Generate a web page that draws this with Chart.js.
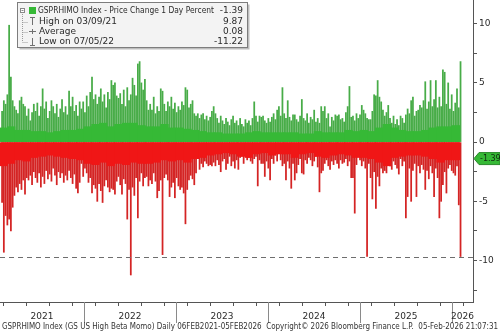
<!DOCTYPE html>
<html>
<head>
<meta charset="utf-8">
<script src="https://cdn.jsdelivr.net/npm/chart.js@4.4.1/dist/chart.umd.min.js"></script>
<style>
  html, body { margin: 0; padding: 0; background: #fff; }
  #wrap { width: 500px; height: 333px; }
</style>
</head>
<body>
<div id="wrap"><canvas id="momoChart" width="500" height="333"></canvas></div>
<script>
// GSPRHIMO daily % change: biggest up / down day of each week as thin spikes,
// plus the usual size of a day's move per month as the solid band round zero
const weekStart = 2021 + 38 / 365;   // Mon 08-Feb-2021, in fractional years
const monthStart = 2021 + 1 / 12;    // Feb 2021

const gains = [
    2.6, 3.5, 3.2, 4.0, 9.87, 5.5, 3.5, 3.0, 2.7, 2.4,
    3.5, 3.8, 3.2, 3.0, 2.2, 2.8, 1.8, 2.5, 3.2, 2.6,
    3.3, 2.2, 3.0, 4.5, 2.8, 3.4, 2.0, 2.6, 3.5, 3.0,
    2.4, 3.2, 2.1, 2.8, 3.6, 2.5, 3.0, 2.3, 4.3, 3.0,
    3.8, 2.6, 3.1, 2.2, 3.4, 2.8, 3.4, 2.5, 3.9, 3.0,
    4.2, 5.5, 3.6, 4.0, 3.2, 3.8, 4.5, 3.4, 4.0, 2.9,
    4.2, 3.6, 5.2, 4.8, 5.0, 3.9, 3.7, 4.1, 3.2, 4.4,
    3.0, 4.6, 3.5, 4.0, 5.4, 4.8, 3.9, 6.6, 6.8, 5.0,
    4.4, 5.3, 3.5, 2.7, 3.2, 2.7, 3.8, 2.4, 3.0, 2.6,
    4.5, 4.3, 3.2, 2.6, 3.4, 3.0, 3.8, 2.8, 3.3, 2.5,
    3.0, 2.7, 3.4, 3.1, 4.6, 4.4, 2.9, 3.2, 3.5, 2.4,
    2.2, 2.4, 2.0, 2.3, 2.4, 1.9, 2.2, 1.8, 2.1, 2.6,
    3.0, 2.4, 2.0, 1.6, 2.2, 1.8, 1.5, 2.0, 1.7, 1.4,
    1.9, 2.2, 1.6, 1.8, 1.4, 2.0, 1.5, 1.3, 1.9, 1.6,
    1.8, 1.4, 2.0, 3.4, 2.2, 1.7, 2.2, 2.1, 2.2, 1.8,
    1.6, 2.0, 1.7, 2.1, 2.4, 1.9, 2.7, 3.0, 2.2, 4.6,
    2.4, 2.0, 3.5, 2.1, 1.8, 2.3, 2.3, 1.9, 1.7, 2.2,
    3.6, 2.0, 1.8, 2.4, 1.6, 2.1, 1.9, 2.7, 1.7, 2.0,
    1.6, 3.0, 2.6, 3.0, 2.0, 2.4, 1.3, 2.1, 1.8, 2.3,
    2.2, 2.3, 1.9, 2.0, 1.7, 2.5, 3.0, 4.7, 2.1, 2.2,
    1.8, 2.4, 2.0, 2.3, 3.1, 2.7, 2.4, 2.0, 1.9, 1.9,
    2.6, 4.0, 3.9, 5.2, 3.8, 3.4, 2.7, 2.2, 2.5, 3.1,
    2.0, 1.6, 2.2, 1.5, 1.9, 1.4, 2.2, 2.0, 1.6, 2.3,
    2.8, 2.4, 3.5, 3.8, 2.2, 2.6, 2.7, 3.1, 2.9, 3.5,
    5.1, 2.8, 3.4, 5.2, 3.0, 3.6, 5.2, 2.9, 3.8, 3.0,
    6.1, 5.9, 3.2, 5.0, 2.8, 4.0, 2.6, 3.3, 4.5, 2.9,
    6.8
];

const losses = [
    -5.1, -9.3, -6.2, -7.0, -6.5, -7.5, -5.5, -4.5, -3.8, -4.2,
    -3.5, -4.0, -3.2, -4.4, -3.0, -3.2, -2.8, -3.6, -2.5, -3.0,
    -3.4, -2.6, -3.8, -2.9, -3.5, -2.4, -3.1, -2.7, -3.3, -2.2,
    -2.8, -3.6, -2.5, -3.0, -2.6, -3.4, -2.8, -3.2, -2.4, -3.0,
    -3.5, -2.7, -3.9, -4.3, -3.4, -1.8, -2.9, -2.2, -2.6, -3.4,
    -3.0, -4.3, -3.6, -3.9, -5.0, -3.5, -4.1, -5.1, -3.7, -3.2,
    -3.8, -4.2, -3.9, -4.0, -4.4, -3.3, -2.9, -3.6, -4.4, -3.1,
    -3.5, -6.5, -4.0, -11.22, -3.8, -4.5, -3.0, -6.4, -3.3, -2.6,
    -3.7, -3.0, -2.9, -3.7, -3.2, -3.5, -2.6, -3.3, -4.7, -4.1,
    -3.2, -9.5, -3.0, -2.7, -3.2, -4.6, -3.8, -3.4, -4.7, -3.0,
    -3.7, -4.0, -3.8, -4.3, -6.9, -4.0, -3.2, -2.8, -3.1, -3.6,
    -2.6, -1.2, -2.3, -1.8, -2.1, -1.6, -1.8, -2.0, -1.9, -2.0,
    -1.7, -2.0, -1.5, -1.9, -2.5, -1.6, -1.4, -2.3, -1.8, -1.2,
    -2.0, -1.6, -2.2, -1.5, -2.3, -1.3, -1.2, -1.8, -0.9, -1.5,
    -1.3, -1.6, -1.8, -1.4, -1.2, -3.7, -1.5, -1.8, -1.8, -2.9,
    -1.6, -2.2, -3.2, -1.4, -1.8, -1.1, -1.6, -0.9, -1.5, -2.0,
    -1.8, -3.2, -1.6, -2.2, -3.9, -1.8, -3.2, -2.6, -1.9, -1.4,
    -2.6, -2.7, -1.5, -1.8, -1.3, -1.5, -2.0, -1.6, -1.2, -2.1,
    -4.2, -2.6, -2.4, -1.8, -1.5, -2.0, -2.3, -1.6, -1.9, -1.5,
    -1.8, -2.2, -1.5, -1.8, -1.7, -1.4, -2.0, -1.6, -3.0, -3.0,
    -6.0, -1.9, -1.2, -1.5, -2.0, -1.6, -2.2, -9.66, -1.8, -3.0,
    -4.8, -2.5, -5.6, -2.9, -3.7, -2.2, -2.6, -2.4, -2.6, -1.8,
    -2.0, -2.3, -1.6, -1.9, -2.2, -2.7, -1.4, -2.0, -1.6, -6.4,
    -4.6, -2.2, -5.0, -2.4, -1.8, -4.6, -2.0, -2.6, -1.9, -2.3,
    -4.0, -2.4, -3.1, -2.0, -2.6, -4.6, -2.2, -3.0, -6.4, -5.0,
    -3.6, -2.5, -4.3, -2.2, -1.9, -2.4, -2.6, -2.8, -2.0, -5.3,
    -9.66
];

// typical up / down day per month, Feb 2021 .. Jan 2026
const bodyUp = [
    1.2, 1.3, 1.0, 1.0, 0.9, 0.9, 0.8, 0.9, 1.0, 1.0, 1.1,
    1.3, 1.5, 1.6, 1.3, 1.5, 1.6, 1.6, 1.4, 1.3, 1.3, 1.5, 1.2,
    1.2, 1.1, 1.0, 0.9, 0.8, 0.8, 0.7, 0.7, 0.7, 0.8, 0.9, 0.8,
    0.8, 0.8, 0.8, 0.8, 0.7, 0.7, 0.9, 0.8, 0.8, 0.8, 1.0, 0.9,
    1.0, 0.9, 1.2, 1.5, 1.2, 1.0, 0.9, 0.9, 1.0, 1.2, 1.3, 1.3,
    1.4
];
const bodyDown = [
    -2.0, -1.8, -1.5, -1.6, -1.3, -1.2, -1.1, -1.2, -1.3, -1.4, -1.5,
    -1.8, -1.9, -1.7, -2.0, -1.8, -1.9, -1.7, -1.8, -1.8, -1.7, -1.5, -1.6,
    -1.5, -1.7, -1.4, -1.3, -1.1, -1.0, -0.9, -1.0, -1.2, -1.3, -1.0, -0.9,
    -1.1, -1.0, -1.0, -1.3, -1.0, -0.9, -1.2, -1.3, -1.1, -1.0, -1.1, -1.3,
    -1.3, -1.4, -1.7, -2.0, -1.3, -1.2, -1.1, -1.1, -1.2, -1.4, -1.7, -1.5,
    -1.5
];

const yearLabels = ['2021', '2022', '2023', '2024', '2025', '2026'];
const yTicks = [-12.5, -10, -7.5, -5, -2.5, 0, 2.5, 5, 7.5, 10];
const lastValue = -1.39;
const refLevel = -9.66;
const legendRows = [
    ['GSPRHIMO Index - Price Change 1 Day Percent', '-1.39'],
    ['High on 03/09/21', '9.87'],
    ['Average', '0.08'],
    ['Low on 07/05/22', '-11.22']
];
const footerText = 'GSPRHIMO Index (GS US High Beta Momo) Daily 06FEB2021-05FEB2026  Copyright\u00A9 2026 Bloomberg Finance L.P.  05-Feb-2026 21:07:31';

const UP = '#36b936';
const UP_SPIKE = '#48ac48';
const DOWN = '#f01616';
const DOWN_SPIKE = '#d42424';
const AXIS = '#555';
const TEXT = '#2a2a2a';
const FONT = '"DejaVu Sans", Verdana, sans-serif';

// week index -> mid-week x, month index -> mid-month x (fractional years)
const weekPoints = arr => arr.map((v, i) => ({ x: weekStart + (i * 7 + 2) / 365.25, y: v }));
const monthPoints = arr => arr.map((v, i) => ({ x: monthStart + (i + 0.5) / 12, y: v }));

// extra bits Bloomberg puts on the chart: ref line, year bands, legend box, last-value tag, footer
const decorPlugin = {
    id: 'decor',
    afterDatasetsDraw(chart) {
        const { ctx, chartArea, scales } = chart;
        const y = scales.y.getPixelForValue(refLevel);
        ctx.save();
        ctx.strokeStyle = '#6e6e6e';
        ctx.lineWidth = 1;
        ctx.setLineDash([5, 4]);
        ctx.beginPath();
        ctx.moveTo(chartArea.left, Math.round(y) + 0.5);
        ctx.lineTo(chartArea.right, Math.round(y) + 0.5);
        ctx.stroke();
        ctx.restore();
    },
    afterDraw(chart) {
        const { ctx, chartArea, scales } = chart;
        const xs = scales.x;
        ctx.save();

        // year separators and labels under the axis
        ctx.strokeStyle = '#8a8a8a';
        ctx.lineWidth = 1;
        ctx.fillStyle = TEXT;
        ctx.font = '9px ' + FONT;
        ctx.textAlign = 'center';
        ctx.textBaseline = 'middle';
        yearLabels.forEach(label => {
            const yr = Number(label);
            const x0 = Math.max(xs.getPixelForValue(yr), chartArea.left);
            const x1 = Math.min(xs.getPixelForValue(yr + 1), chartArea.right);
            if (xs.getPixelForValue(yr) > chartArea.left) {
                const px = Math.round(xs.getPixelForValue(yr)) + 0.5;
                ctx.beginPath();
                ctx.moveTo(px, chartArea.bottom);
                ctx.lineTo(px, chartArea.bottom + 21);
                ctx.stroke();
            }
            ctx.fillText(label, (x0 + x1) / 2, chartArea.bottom + 15);
        });

        // footer line
        ctx.textAlign = 'left';
        ctx.font = '8px ' + FONT;
        ctx.fillStyle = '#333';
        ctx.fillText(footerText, 2, 327, 496);

        // last value tag on the right axis
        const ly = scales.y.getPixelForValue(lastValue);
        const ax = chartArea.right + 1;
        ctx.beginPath();
        ctx.moveTo(ax, ly);
        ctx.lineTo(ax + 5, ly - 6);
        ctx.lineTo(500, ly - 6);
        ctx.lineTo(500, ly + 6);
        ctx.lineTo(ax + 5, ly + 6);
        ctx.closePath();
        ctx.fillStyle = UP;
        ctx.fill();
        ctx.strokeStyle = '#2b8a2b';
        ctx.stroke();
        ctx.fillStyle = '#102a10';
        ctx.font = '8px ' + FONT;
        ctx.fillText(lastValue.toFixed(2), ax + 6, ly + 0.5);

        // legend box
        const bx = 17.5, by = 2.5, bw = 230, bh = 45;
        ctx.fillStyle = '#bdbdbd';
        ctx.fillRect(bx + 2, by + 2, bw, bh);
        ctx.fillStyle = '#f3f3f3';
        ctx.fillRect(bx, by, bw, bh);
        ctx.strokeStyle = '#7d7d7d';
        ctx.strokeRect(bx, by, bw, bh);

        const rowY = [11, 21.5, 31.5, 42];
        // tree lines
        ctx.strokeStyle = '#9a9a9a';
        ctx.setLineDash([1, 1]);
        ctx.beginPath();
        ctx.moveTo(22.5, 14);
        ctx.lineTo(22.5, rowY[3]);
        for (let r = 1; r < 4; r++) {
            ctx.moveTo(22.5, Math.round(rowY[r]) + 0.5);
            ctx.lineTo(28, Math.round(rowY[r]) + 0.5);
        }
        ctx.stroke();
        ctx.setLineDash([]);
        // collapse box
        ctx.strokeStyle = '#888';
        ctx.fillStyle = '#fff';
        ctx.fillRect(20.5, 8.5, 4, 4);
        ctx.strokeRect(20.5, 8.5, 4, 4);
        ctx.beginPath();
        ctx.moveTo(21.5, 10.5);
        ctx.lineTo(23.5, 10.5);
        ctx.stroke();
        // series swatch
        ctx.fillStyle = UP;
        ctx.fillRect(29, 7, 7, 7);
        // high / average / low markers
        ctx.strokeStyle = '#707070';
        ctx.beginPath();
        ctx.moveTo(30, 17.5); ctx.lineTo(35, 17.5);
        ctx.moveTo(32.5, 17.5); ctx.lineTo(32.5, 25);
        ctx.moveTo(29, 31.5); ctx.lineTo(36, 31.5);
        ctx.moveTo(32.5, 29); ctx.lineTo(32.5, 34);
        ctx.moveTo(32.5, 38); ctx.lineTo(32.5, 45);
        ctx.moveTo(30, 45.5); ctx.lineTo(35, 45.5);
        ctx.stroke();

        ctx.fillStyle = TEXT;
        ctx.font = '9px ' + FONT;
        ctx.textBaseline = 'middle';
        legendRows.forEach((row, r) => {
            ctx.textAlign = 'left';
            const tx = r === 0 ? 38 : 39;
            ctx.fillText(row[0], tx, rowY[r], r === 0 ? 176 : 150);
            ctx.textAlign = 'right';
            ctx.fillText(row[1], 243, rowY[r]);
        });

        ctx.restore();
    }
};

// fixed pixel widths: monthly band is one month wide, spikes about a pixel
const bandStyle = { grouped: false, barThickness: 7.7 };
const spikeStyle = { grouped: false, barThickness: 1.1 };

const ctx = document.getElementById('momoChart').getContext('2d');
const momoChart = new Chart(ctx, {
    type: 'bar',
    data: {
        // first dataset is painted last, so the band sits over the spike roots
        datasets: [
            { label: 'Typical up day', data: monthPoints(bodyUp), backgroundColor: UP, ...bandStyle },
            { label: 'Typical down day', data: monthPoints(bodyDown), backgroundColor: DOWN, ...bandStyle },
            { label: 'Best day of week', data: weekPoints(gains), backgroundColor: UP_SPIKE, ...spikeStyle },
            { label: 'Worst day of week', data: weekPoints(losses), backgroundColor: DOWN_SPIKE, ...spikeStyle }
        ]
    },
    options: {
        responsive: false,
        animation: false,
        devicePixelRatio: 1,
        layout: { padding: 0 },
        plugins: {
            legend: { display: false },
            tooltip: { enabled: false }
        },
        scales: {
            x: {
                type: 'linear',
                min: 2021.087,
                max: 2026.228,
                offset: false,
                afterBuildTicks: scale => {
                    const t = [];
                    for (let q = 2021.25; q < 2026.23; q += 0.25) t.push({ value: q });
                    scale.ticks = t;
                },
                ticks: { display: false },
                grid: { drawOnChartArea: false, tickLength: 4, color: AXIS },
                border: { display: true, color: AXIS },
                afterFit: scale => {
                    scale.height = 31;
                    scale.paddingLeft = 0;
                    scale.paddingRight = 0;
                }
            },
            y: {
                position: 'right',
                min: -13.5,
                max: 12,
                afterBuildTicks: scale => {
                    scale.ticks = yTicks.map(v => ({ value: v }));
                },
                ticks: {
                    callback: v => (v % 5 === 0 ? String(v) : ''),
                    color: TEXT,
                    padding: 2,
                    font: { family: FONT, size: 9 }
                },
                grid: { drawOnChartArea: false, tickLength: 4, color: AXIS },
                border: { display: true, color: AXIS },
                afterFit: scale => {
                    scale.width = 27;
                    scale.paddingTop = 0;
                    scale.paddingBottom = 0;
                }
            }
        }
    },
    plugins: [decorPlugin]
});
</script>
</body>
</html>
